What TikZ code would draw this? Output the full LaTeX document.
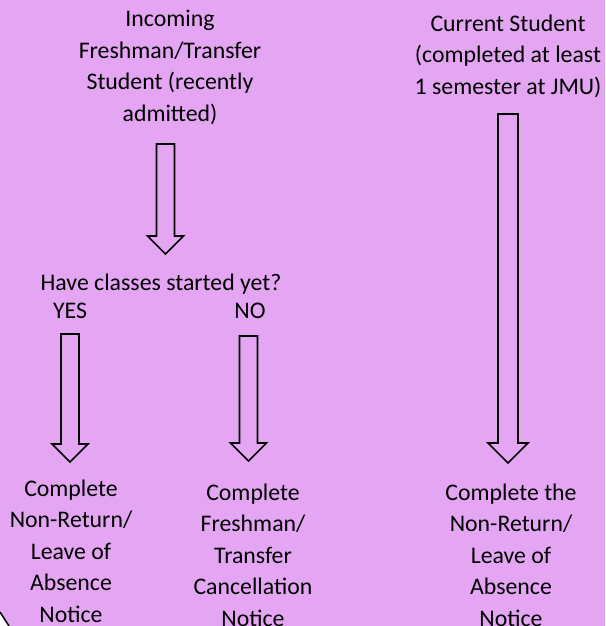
\documentclass[tikz,border=0pt]{standalone}
\usepackage{fontspec}
\setmainfont{Carlito}
\usetikzlibrary{calc}

\definecolor{lilac}{RGB}{228,166,243}

% hollow block arrow from a start point to a tip, #1 = half shaft width
\newcommand{\blockarrow}[3][9]{%
  \draw[arrowline] ($(#2)+(-#1,0)$) -- ($(#3)+(-#1,2*#1)$) -- ($(#3)+(-2*#1,2*#1)$)
    -- (#3) -- ($(#3)+(2*#1,2*#1)$) -- ($(#3)+(#1,2*#1)$) -- ($(#2)+(#1,0)$) -- cycle;}

\tikzset{
  label/.style={align=center, inner sep=0pt, anchor=base,
    font=\fontsize{23.8}{31.4}\selectfont},
  arrowline/.style={draw=black, line width=1.6pt, line join=miter}
}

\begin{document}
\begin{tikzpicture}[x=1pt, y=1pt]
        \fill[lilac] (0,0) rectangle (605,-626);
        \useasboundingbox (0,0) rectangle (605,-626);
        \fill[white] (0,-612) -- (9,-626) -- (0,-626) -- cycle;
        \draw[line width=1.5pt] (0,-612) -- (9,-626);

        % anchors sit on the last baseline of each text
        \node (incoming) [label] at (170,-121) {Incoming\\Freshman/Transfer\\Student (recently\\admitted)};
        \node (current) [label] at (508,-94) {Current Student\\(completed at least\\1 semester at JMU)};
        \node (started) [label] at (161,-290) {Have classes started yet?};
        \node (yes) [label] at (70,-318) {YES};
        \node (no) [label] at (250,-318) {NO};
        \node (leave) [label] at (71,-622) {Complete\\Non-Return/\\Leave of\\Absence\\Notice};
        \node (cancel) [label] at (253,-626) {Complete\\Freshman/\\Transfer\\Cancellation\\Notice};
        \node (leavecur) [label] at (511,-626) {Complete the\\Non-Return/\\Leave of\\Absence\\Notice};

        % arrows
        \coordinate (incomingOut) at (165.5,-144);
        \coordinate (startedIn) at (165.5,-254);
        \coordinate (yesOut) at (70,-334);
        \coordinate (leaveIn) at (70,-462);
        \coordinate (noOut) at (248.5,-336);
        \coordinate (cancelIn) at (248.5,-461);
        \coordinate (currentOut) at (508,-114);
        \coordinate (leavecurIn) at (508,-463);

        \blockarrow{incomingOut}{startedIn}
        \blockarrow{yesOut}{leaveIn}
        \blockarrow{noOut}{cancelIn}
        \blockarrow[10]{currentOut}{leavecurIn}
\end{tikzpicture}
\end{document}
